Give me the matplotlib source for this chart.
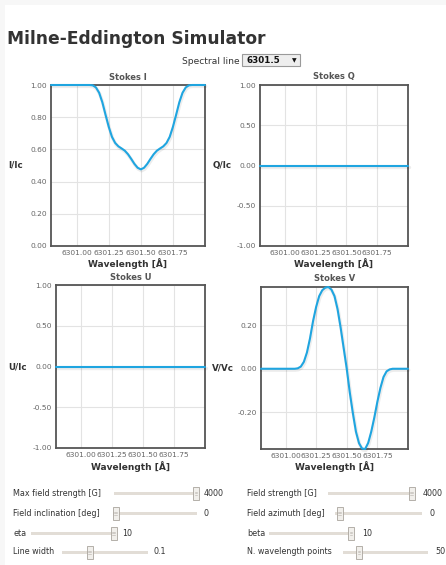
import matplotlib
matplotlib.use("Agg")
import matplotlib.pyplot as plt
import matplotlib.patheffects as pe
from matplotlib.patches import Rectangle, FancyBboxPatch

# ---------------- data ----------------
wavelength = [6300.800, 6300.825, 6300.850, 6300.875, 6300.900, 6300.925, 6300.950, 6300.975,
              6301.000, 6301.025, 6301.050, 6301.075, 6301.100, 6301.125, 6301.150, 6301.175,
              6301.200, 6301.225, 6301.250, 6301.275, 6301.300, 6301.325, 6301.350, 6301.375,
              6301.400, 6301.425, 6301.450, 6301.475, 6301.500, 6301.525, 6301.550, 6301.575,
              6301.600, 6301.625, 6301.650, 6301.675, 6301.700, 6301.725, 6301.750, 6301.775,
              6301.800, 6301.825, 6301.850, 6301.875, 6301.900, 6301.925, 6301.950, 6301.975,
              6302.000]

stokes_i = [1.000, 1.000, 1.000, 1.000, 1.000, 1.000, 1.000, 1.000,
            1.000, 1.000, 1.000, 1.000, 1.000, 0.998, 0.985, 0.952,
            0.893, 0.815, 0.740, 0.678, 0.640, 0.619, 0.606, 0.592,
            0.570, 0.541, 0.510, 0.486, 0.476, 0.486, 0.510, 0.541,
            0.570, 0.592, 0.606, 0.619, 0.640, 0.678, 0.740, 0.815,
            0.893, 0.952, 0.985, 0.998, 1.000, 1.000, 1.000, 1.000,
            1.000]

stokes_q = [0.0] * 49
stokes_u = [0.0] * 49

stokes_v = [0.000, 0.000, 0.000, 0.000, 0.000, 0.000, 0.000, 0.000,
            0.000, 0.000, 0.000, 0.000, 0.002, 0.010, 0.032, 0.075,
            0.140, 0.220, 0.285, 0.335, 0.362, 0.374, 0.377, 0.365,
            0.335, 0.275, 0.190, 0.095, 0.000, -0.110, -0.205, -0.290,
            -0.343, -0.368, -0.370, -0.342, -0.290, -0.225, -0.152, -0.088,
            -0.038, -0.012, -0.003, 0.000, 0.000, 0.000, 0.000, 0.000,
            0.000]

x_ticks = [6301.00, 6301.25, 6301.50, 6301.75]
x_tick_labels = ["6301.00", "6301.25", "6301.50", "6301.75"]
i_ticks = [0.0, 0.2, 0.4, 0.6, 0.8, 1.0]
qu_ticks = [-1.0, -0.5, 0.0, 0.5, 1.0]
v_ticks = [-0.2, 0.0, 0.2]

slider_labels_left = ["Max field strength [G]", "Field inclination [deg]", "eta", "Line width"]
slider_values_left = ["4000", "0", "10", "0.1"]
slider_labels_right = ["Field strength [G]", "Field azimuth [deg]", "beta", "N. wavelength points"]
slider_values_right = ["4000", "0", "10", "50"]

# ---------------- figure ----------------
W, H = 446, 565
fig = plt.figure(figsize=(W / 100, H / 100), dpi=100)
fig.patch.set_facecolor("white")

def fx(px):
    return px / W

def fy(py):
    return 1 - py / H

# light grey page border
fig.patches.append(Rectangle((0, fy(5)), 1, 5 / H, transform=fig.transFigure,
                             facecolor="#f7f7f7", edgecolor="none", zorder=0))
fig.patches.append(Rectangle((0, 0), 5 / W, 1, transform=fig.transFigure,
                             facecolor="#f7f7f7", edgecolor="none", zorder=0))

FONT = "DejaVu Sans"
LINE_COLOR = "#1fa5e0"

fig.text(fx(7), fy(44), "Milne-Eddington Simulator", fontsize=12.3, fontweight="bold",
         color="#333333", family=FONT, va="baseline", ha="left")

# spectral line selector
fig.text(fx(240), fy(61), "Spectral line", fontsize=6.6, color="#333333", family=FONT,
         ha="right", va="center")
fig.patches.append(FancyBboxPatch((fx(242), fy(66)), 58 / W, 12 / H,
                                  boxstyle="square,pad=0", transform=fig.transFigure,
                                  facecolor="#eeeeee", edgecolor="#9a9a9a", linewidth=0.8))
fig.text(fx(246), fy(60.5), "6301.5", fontsize=6.3, fontweight="bold", color="#111111",
         family=FONT, ha="left", va="center")
fig.text(fx(294), fy(60.5), "\u25bc", fontsize=4.3, color="#111111", family=FONT,
         ha="center", va="center")


def make_axes(rect_px, values, ylim, yticks, title, ylabel, label_x_px, xlabel_y_px):
    x0, y0, x1, y1 = rect_px
    ax = fig.add_axes([fx(x0), fy(y1), (x1 - x0) / W, (y1 - y0) / H])
    ax.plot(wavelength, values, color=LINE_COLOR, linewidth=1.5, solid_capstyle="round",
            path_effects=[pe.SimpleLineShadow(offset=(0.5, -1.0), shadow_color="#000000",
                                              alpha=0.07, linewidth=2.5),
                          pe.Normal()],
            zorder=3, clip_on=False)
    ax.set_xlim(6300.8, 6302.0)
    ax.set_ylim(*ylim)
    ax.set_xticks(x_ticks)
    ax.set_xticklabels(x_tick_labels)
    ax.set_yticks(yticks)
    ax.set_yticklabels(["%.2f" % t for t in yticks])
    ax.grid(True, color="#e3e3e3", linewidth=0.8)
    ax.set_axisbelow(True)
    ax.tick_params(length=0, labelsize=5.4, labelcolor="#666666", pad=3)
    for lab in ax.get_xticklabels() + ax.get_yticklabels():
        lab.set_family(FONT)
    for s in ax.spines.values():
        s.set_color("#555555")
        s.set_linewidth(1.3)
    cx = (x0 + x1) / 2
    fig.text(fx(cx), fy(y0 - 8), title, fontsize=6.0, fontweight="bold", color="#555555",
             family=FONT, ha="center", va="center")
    fig.text(fx(label_x_px), fy((y0 + y1) / 2), ylabel, fontsize=6.3, fontweight="bold",
             color="#333333", family=FONT, ha="left", va="center")
    fig.text(fx(cx), fy(xlabel_y_px), "Wavelength [Å]", fontsize=6.5, fontweight="bold",
             color="#333333", family=FONT, ha="center", va="center")
    return ax


make_axes((51, 85, 205, 246), stokes_i, (0.0, 1.0), i_ticks, "Stokes I", "I/Ic", 8, 264)
make_axes((260, 85, 408, 246), stokes_q, (-1.0, 1.0), qu_ticks, "Stokes Q", "Q/Ic", 213, 264)
make_axes((56, 285, 205, 448), stokes_u, (-1.0, 1.0), qu_ticks, "Stokes U", "U/Ic", 8, 467)
make_axes((261, 287, 408, 449), stokes_v, (min(stokes_v), max(stokes_v)), v_ticks,
          "Stokes V", "V/Vc", 212, 467)

# ---------------- sliders ----------------
row_y = [493, 513, 533, 552]
left_tracks = [(114, 197, 196), (113, 197, 115.5), (31, 116, 113.5), (62, 148, 89.5)]
left_value_x = [204, 204, 122, 153]
right_tracks = [(328, 414, 411.5), (335, 422, 339.5), (269, 354, 351), (343, 428, 359)]
right_value_x = [423, 430, 362, 435]


def slider(y, track, label, value, label_x, value_x):
    t0, t1, h = track
    fig.text(fx(label_x), fy(y), label, fontsize=5.8, color="#333333", family=FONT,
             ha="left", va="center")
    fig.patches.append(Rectangle((fx(t0), fy(y + 1.5)), (t1 - t0) / W, 3 / H,
                                 transform=fig.transFigure, facecolor="#e2ddd6",
                                 edgecolor="none"))
    fig.patches.append(Rectangle((fx(h - 3), fy(y + 6.5)), 6 / W, 13 / H,
                                 transform=fig.transFigure, facecolor="#f1efeb",
                                 edgecolor="#a9a49d", linewidth=0.6))
    for dy in (-1.5, 0, 1.5):
        fig.lines.append(plt.Line2D([fx(h - 1.3), fx(h + 1.3)], [fy(y + dy), fy(y + dy)],
                                    transform=fig.transFigure, color="#b5b0aa",
                                    linewidth=0.4))
    fig.text(fx(value_x), fy(y), value, fontsize=5.8, color="#333333", family=FONT,
             ha="left", va="center")


for k in range(4):
    slider(row_y[k], left_tracks[k], slider_labels_left[k], slider_values_left[k], 13,
           left_value_x[k])
    slider(row_y[k], right_tracks[k], slider_labels_right[k], slider_values_right[k], 247,
           right_value_x[k])

fig.savefig("out.png", dpi=100, facecolor=fig.get_facecolor())
